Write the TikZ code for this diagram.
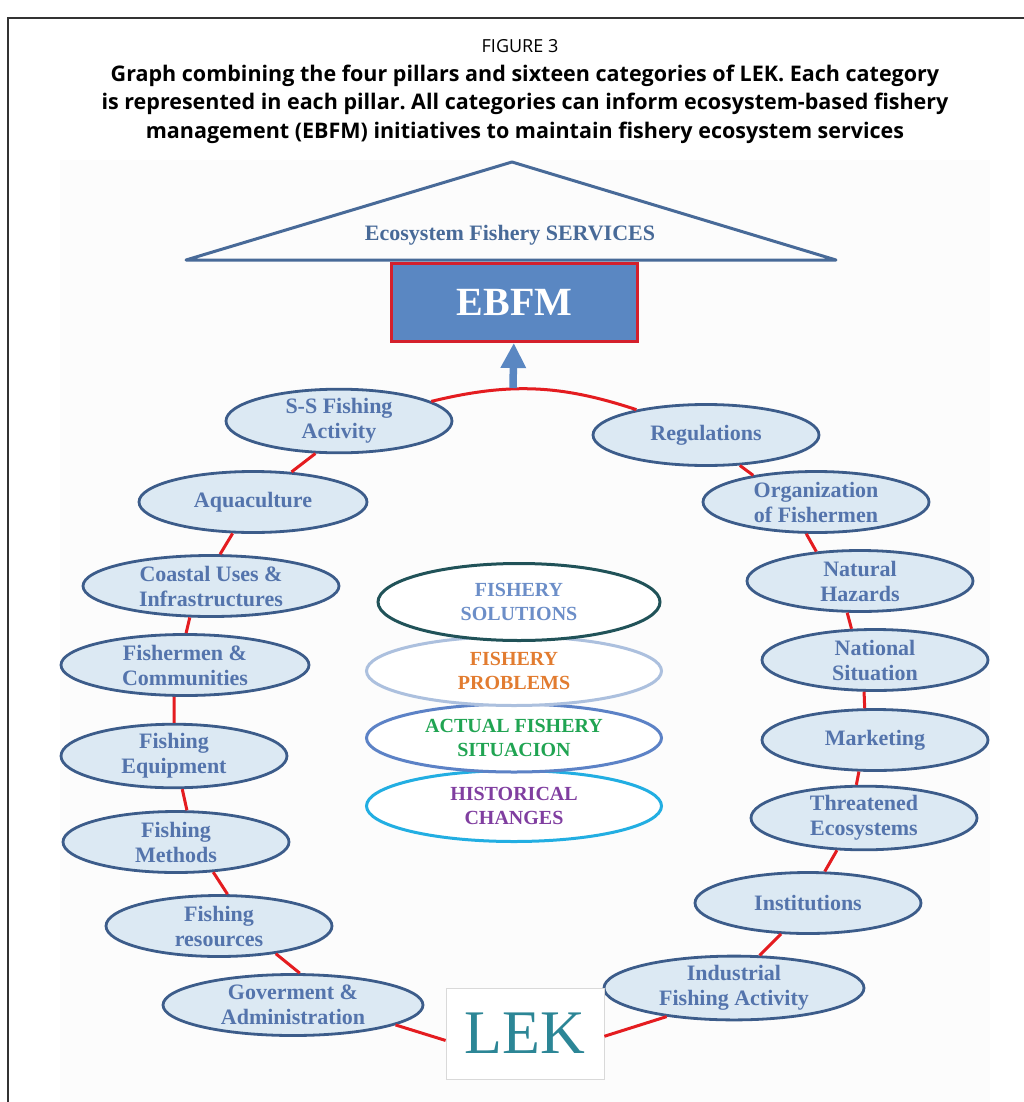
\documentclass[tikz,border=0pt]{standalone}
\usepackage{fontspec}
\setmainfont{Liberation Serif}
\newfontfamily\capfont{Open Sans}
\usetikzlibrary{shapes.geometric,arrows.meta}
\frenchspacing

\definecolor{catfill}{RGB}{220,233,243}
\definecolor{catline}{RGB}{60,92,138}
\definecolor{cattext}{RGB}{84,116,172}
\definecolor{ringred}{RGB}{228,28,32}
\definecolor{roofblue}{RGB}{72,106,152}
\definecolor{ebfmblue}{RGB}{90,135,194}
\definecolor{ebfmred}{RGB}{212,32,44}
\definecolor{lekteal}{RGB}{44,134,150}
\definecolor{solline}{RGB}{32,82,88}
\definecolor{soltext}{RGB}{108,142,200}
\definecolor{probline}{RGB}{172,192,222}
\definecolor{probtext}{RGB}{226,124,48}
\definecolor{actline}{RGB}{92,130,198}
\definecolor{acttext}{RGB}{32,164,82}
\definecolor{histline}{RGB}{34,174,226}
\definecolor{histtext}{RGB}{128,62,160}

\begin{document}
\begin{tikzpicture}[x=1pt,y=-1pt,
  cat/.style={ellipse,draw=catline,fill=catfill,line width=2.8pt,text=cattext,
    font=\fontsize{22}{25}\selectfont\bfseries,align=center,inner sep=0pt,
    minimum width=226pt,minimum height=61pt},
  pillar/.style={ellipse,fill=white,line width=3pt,inner sep=0pt,align=center,
    font=\fontsize{20}{24}\selectfont\bfseries,minimum width=295pt},
  ring/.style={draw=ringred,line width=3pt},
  uparrow/.style={draw=ebfmblue,line width=7.5pt,-{Triangle[length=25pt,width=24pt]}}]

\useasboundingbox (0,0) rectangle (1024,1102);
\fill[black!1] (60,160) rectangle (990,1102);
\draw[line width=2pt,black!80] (8,1102) -- (8,18) -- (1024,18);

% caption
\node[font=\capfont\fontsize{18}{18}\selectfont] (fig) at (520,46) {FIGURE 3};
\node[font=\capfont\fontsize{21.5}{28.5}\selectfont\bfseries,align=center] (caption) at (525,104)
  {Graph combining the four pillars and sixteen categories of LEK. Each category\\
   is represented in each pillar. All categories can inform ecosystem-based fishery\\
   management (EBFM) initiatives to maintain fishery ecosystem services};

% roof
\draw[roofblue,line width=3pt,line join=round] (186,260) -- (512,162) -- (836,260) -- cycle;
\node[text=roofblue,font=\fontsize{22}{22}\selectfont\bfseries] (services) at (510,235) {Ecosystem Fishery SERVICES};
\node[draw=ebfmred,fill=ebfmblue,line width=3pt,minimum width=246pt,minimum height=78pt,
  text=white,font=\fontsize{40}{40}\selectfont\bfseries] (ebfm) at (514.5,302.5) {EBFM};

% four pillars
\node[pillar,draw=histline,text=histtext,minimum height=71pt] (hist) at (514,806) {HISTORICAL\\CHANGES};
\node[pillar,draw=actline,text=acttext,minimum height=68pt] (act) at (514,738) {ACTUAL FISHERY\\SITUACION};
\node[pillar,draw=probline,text=probtext,minimum height=69pt] (prob) at (514,671) {FISHERY\\PROBLEMS};
\node[pillar,draw=solline,text=soltext,minimum width=282pt,minimum height=77pt] (sol) at (519,602) {FISHERY\\SOLUTIONS};

% categories, left side
\node[cat] (ss) at (339,421) {S-S Fishing\\Activity};
\node[cat,minimum width=228pt] (aqua) at (253,502) {Aquaculture};
\node[cat,minimum width=256pt] (coast) at (211,586) {Coastal Uses \&\\Infrastructures};
\node[cat,minimum width=248pt] (fisher) at (185,665) {Fishermen \&\\Communities};
\node[cat] (equip) at (174,756) {Fishing\\Equipment};
\node[cat] (meth) at (176,842) {Fishing\\Methods};
\node[cat] (res) at (219,926) {Fishing\\resources};
\node[cat,minimum width=260pt] (gov) at (293,1005) {Goverment \&\\Administration};

% categories, right side
\node[cat] (reg) at (706,435) {Regulations};
\node[cat] (org) at (816,502) {Organization\\of Fishermen};
\node[cat] (nat) at (860,581) {Natural\\Hazards};
\node[cat] (natl) at (875,660) {National\\Situation};
\node[cat] (mkt) at (875,740) {Marketing};
\node[cat] (thr) at (864,818) {Threatened\\Ecosystems};
\node[cat] (inst) at (808,903) {Institutions};
\node[cat,minimum width=260pt] (ind) at (734,988) {Industrial\\Fishing Activity};

\node[draw=black!15,line width=0.8pt,fill=white,minimum width=158pt,minimum height=91pt,
  text=lekteal,font=\fontsize{62}{62}\selectfont] (lek) at (525,1033.5) {LEK};

% the ring
\foreach \a/\p/\b/\q in {ss/-126/aqua/38, aqua/-123/coast/74, coast/-124/fisher/88,
    fisher/-109/equip/90, equip/-76/meth/71, meth/-39/res/75, res/-26/gov/78,
    gov/-11/lek/185, lek/-2/ind/-157, ind/52/inst/-131, inst/62/thr/-130,
    thr/103/mkt/-117, mkt/108/natl/-109, natl/127/nat/-112, nat/146/org/-107,
    org/157/reg/-42}
  \draw[ring] (\a.\p) -- (\b.\q);
\draw[ring] (ss.12) to[bend left=16] (reg.160);

\coordinate (foot) at (513,388);
\draw[uparrow] (foot) -- (ebfm);
\end{tikzpicture}
\end{document}
